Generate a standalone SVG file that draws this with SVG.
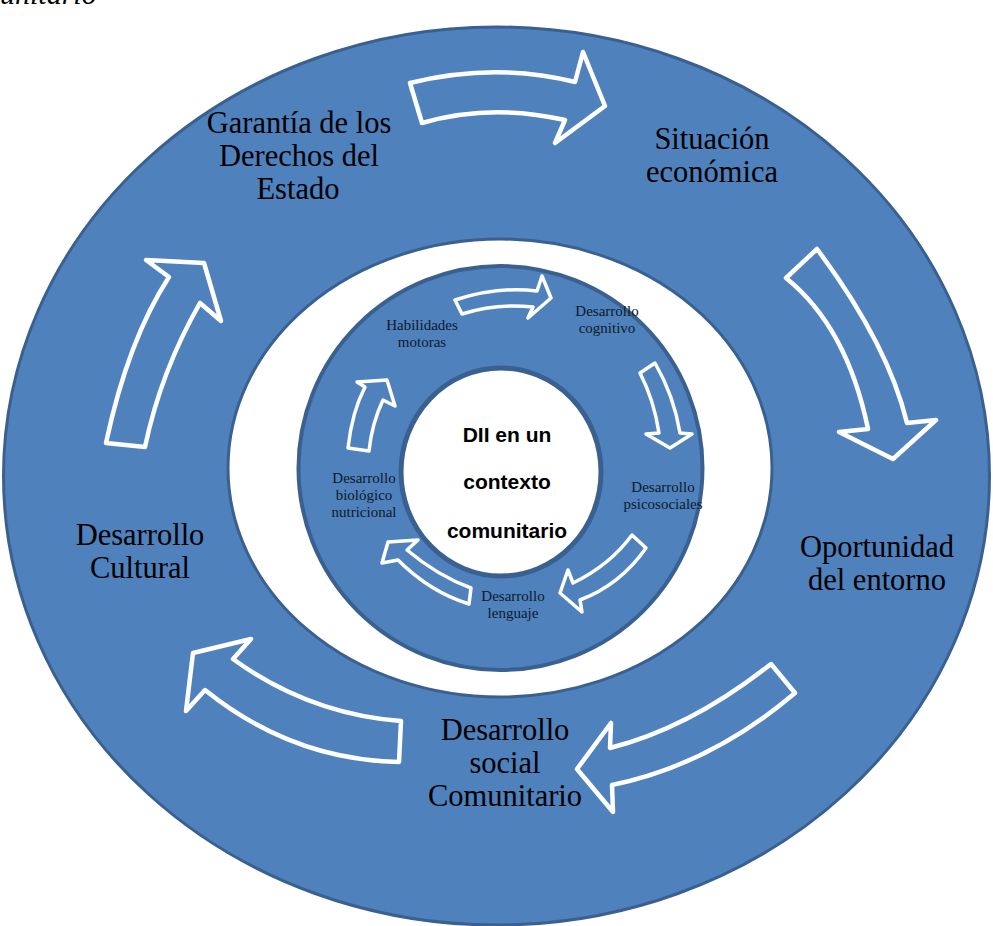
<svg xmlns="http://www.w3.org/2000/svg" width="993" height="926" viewBox="0 0 993 926">
<style>
.big{font-family:"Liberation Serif","Times New Roman",serif;font-size:30.5px;fill:#000;text-anchor:middle}
.small{font-family:"Liberation Serif","Times New Roman",serif;font-size:15px;fill:#0d1a2a;text-anchor:middle}
.center{font-family:"Liberation Sans",Arial,sans-serif;font-size:21px;font-weight:bold;fill:#000;text-anchor:middle}
.arrow{fill:none;stroke:#fff;stroke-width:4.5;stroke-linejoin:round}
.sarrow{fill:none;stroke:#fff;stroke-width:3.5;stroke-linejoin:round}
.ring{fill:#4f81bd;stroke:#3a6090}
</style>
<rect width="993" height="926" fill="#fff"/>
<text x="0" y="4" font-family="Liberation Serif, serif" font-style="italic" font-size="30">unitario</text>
<g id="outer-ring">
<ellipse class="ring" cx="496.5" cy="476" rx="493" ry="449" stroke-width="3"/>
</g>
<g id="white-ring">
<ellipse cx="500" cy="468" rx="272" ry="229" fill="#fff" stroke="#3a6090" stroke-width="3"/>
</g>
<g id="inner-ring">
<circle class="ring" cx="500.5" cy="468" r="202" stroke-width="4"/>
</g>
<g id="core">
<ellipse cx="501" cy="472" rx="100" ry="104" fill="#fff" stroke="#3a6090" stroke-width="5"/>
<text class="center" x="507" y="442">DII en un</text>
<text class="center" x="507" y="489">contexto</text>
<text class="center" x="507" y="538">comunitario</text>
</g>
<g id="garantia"><text class="big" x="299" y="133">Garantía de los</text><text class="big" x="299" y="166">Derechos del</text><text class="big" x="298" y="199">Estado</text></g>
<g id="situacion"><text class="big" x="712" y="149">Situación</text><text class="big" x="712" y="182">económica</text></g>
<g id="oportunidad"><text class="big" x="877" y="557">Oportunidad</text><text class="big" x="877" y="590">del entorno</text></g>
<g id="social"><text class="big" x="505" y="740">Desarrollo</text><text class="big" x="505" y="773">social</text><text class="big" x="505" y="806">Comunitario</text></g>
<g id="cultural"><text class="big" x="140" y="545">Desarrollo</text><text class="big" x="140" y="578">Cultural</text></g>
<g id="habilidades"><text class="small" x="422" y="330">Habilidades</text><text class="small" x="422" y="347">motoras</text></g>
<g id="cognitivo"><text class="small" x="607" y="316">Desarrollo</text><text class="small" x="607" y="333">cognitivo</text></g>
<g id="psicosociales"><text class="small" x="663" y="492">Desarrollo</text><text class="small" x="663" y="509">psicosociales</text></g>
<g id="lenguaje"><text class="small" x="513" y="601">Desarrollo</text><text class="small" x="513" y="618">lenguaje</text></g>
<g id="biologico"><text class="small" x="364" y="483">Desarrollo</text><text class="small" x="364" y="500">biológico</text><text class="small" x="364" y="517">nutricional</text></g>
<g id="connectors">
<path class="arrow" d="M410,83 Q495,62 575,82 L583,52 L605,106 L555,143 L565,120 Q490,103 422,123 Z"/>
<path class="arrow" d="M817,249 L786,278 Q847,327 868,429 L839,432 L893,459 L936,420 L907,423 Q888,344 817,249 Z"/>
<path class="arrow" d="M771,664 L795,693 Q710,765 612,785 L613,812 L577,769 L611,723 L610,748 Q690,728 771,664 Z"/>
<path class="arrow" d="M401,721 Q309,714 233,659 L251,639 L193,653 L186,711 L205,690 Q292,760 399,762 Z"/>
<path class="arrow" d="M106,443 Q128,340 169,277 L146,260 L204,263 L221,321 L200,303 Q161,371 145,447 Z"/>
<path class="sarrow" d="M455,300 Q498,286 537,291 L542,276 L551,298 L528,318 L533,307 Q496,303 462,314 Z"/>
<path class="sarrow" d="M655,363 L640,373 Q654,400 659,433 L646,434 L670,448 L692,434 L680,433 Q674,396 655,363 Z"/>
<path class="sarrow" d="M632,535 L646,548 Q620,585 580,600 L582,612 L560,593 L568,570 L573,583 Q610,565 632,535 Z"/>
<path class="sarrow" d="M471,588 Q438,576 407,550 L418,540 L388,542 L382,563 L398,560 Q430,592 469,604 Z"/>
<path class="sarrow" d="M348,448 Q352,412 365,387 L357,382 L387,380 L395,406 L383,400 Q372,423 369,451 Z"/>
</g>
</svg>
